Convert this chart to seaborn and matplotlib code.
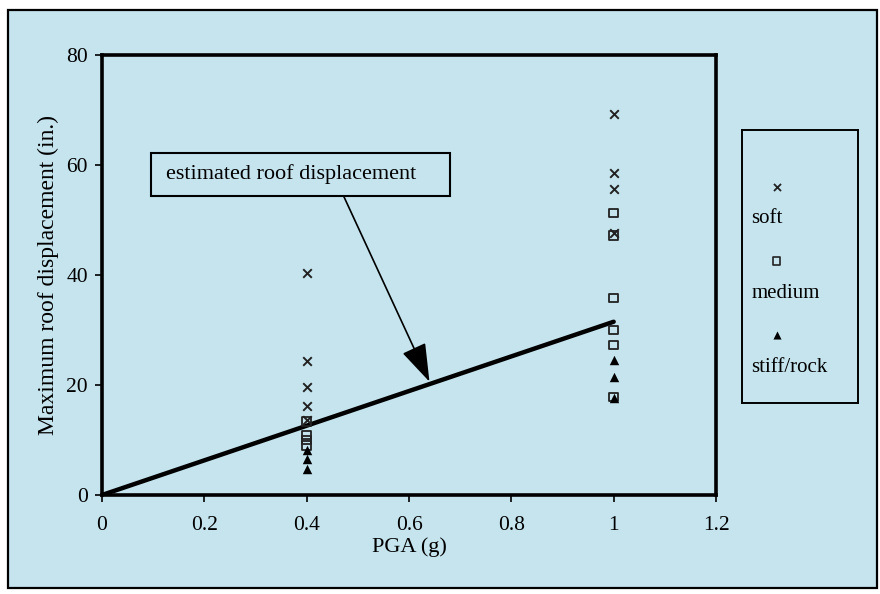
import matplotlib
matplotlib.use("Agg")
import matplotlib.pyplot as plt
from matplotlib.patches import Rectangle
import seaborn as sns
import pandas as pd

# ---- data ----
soft_pga = [0.4, 0.4, 0.4, 0.4, 0.4, 1.0, 1.0, 1.0, 1.0]
soft_disp = [40.4, 24.4, 19.6, 16.2, 13.6, 69.2, 58.5, 55.6, 47.6]

medium_pga = [0.4, 0.4, 0.4, 0.4, 1.0, 1.0, 1.0, 1.0, 1.0, 1.0]
medium_disp = [13.4, 10.9, 10.0, 9.0, 51.3, 47.2, 35.8, 30.0, 27.3, 17.8]

stiff_pga = [0.4, 0.4, 0.4, 1.0, 1.0, 1.0]
stiff_disp = [8.2, 6.5, 4.8, 24.5, 21.5, 17.6]

est_pga = [0.0, 1.0]
est_disp = [0.0, 31.5]

x_ticks = [0, 0.2, 0.4, 0.6, 0.8, 1, 1.2]
x_ticklabels = ["0", "0.2", "0.4", "0.6", "0.8", "1", "1.2"]
y_ticks = [0, 20, 40, 60, 80]

BG = "#c5e4ee"

sns.set_theme(style="white")
plt.rcParams["font.family"] = ["Liberation Serif", "DejaVu Serif"]

fig = plt.figure(figsize=(8.8, 5.94), dpi=100)
fig.patch.set_facecolor("white")
fig.patches.append(Rectangle((8 / 880, 6 / 594), 869 / 880, 578 / 594,
                             transform=fig.transFigure, facecolor=BG,
                             edgecolor="black", linewidth=1.6, zorder=-5))

ax = fig.add_axes([102 / 880, 1 - 495 / 594, 614 / 880, 440 / 594])
ax.patch.set_alpha(0)

soft = pd.DataFrame({"PGA": soft_pga, "disp": soft_disp})
med = pd.DataFrame({"PGA": medium_pga, "disp": medium_disp})
stiff = pd.DataFrame({"PGA": stiff_pga, "disp": stiff_disp})
est = pd.DataFrame({"PGA": est_pga, "disp": est_disp})

sns.lineplot(data=est, x="PGA", y="disp", ax=ax, color="black", linewidth=3.2, zorder=2)
sns.scatterplot(data=soft, x="PGA", y="disp", ax=ax, marker="x", color="#222222",
                s=38, linewidth=1.4, zorder=3)
sns.scatterplot(data=med, x="PGA", y="disp", ax=ax, marker="s", color="#222222",
                s=38, linewidth=1.3, zorder=3)
ax.collections[-1].set_facecolor("none")
ax.collections[-1].set_edgecolor("#222222")
sns.scatterplot(data=stiff, x="PGA", y="disp", ax=ax, marker="^", color="black",
                s=46, linewidth=0, zorder=3)

ax.set_xlim(0, 1.2)
ax.set_ylim(0, 80)
ax.set_xticks(x_ticks)
ax.set_xticklabels(x_ticklabels)
ax.set_yticks(y_ticks)
ax.tick_params(axis="both", which="both", direction="out", length=5, width=1.2,
               colors="black", labelsize=15.5, bottom=True, left=True)
ax.tick_params(axis="x", pad=10)
ax.tick_params(axis="y", pad=5)
for sp in ax.spines.values():
    sp.set_visible(True)
    sp.set_color("black")
    sp.set_linewidth(2.6)
ax.set_xlabel("PGA (g)", fontsize=16, labelpad=2, color="black")
ax.set_ylabel("Maximum roof displacement (in.)", fontsize=17, labelpad=5, color="black")

# annotation box + arrow
ax.add_patch(Rectangle((0.096, 54.4), 0.584, 7.8, facecolor="none",
                       edgecolor="black", linewidth=1.5, zorder=4))
ax.text(0.37, 58.3, "estimated roof displacement", ha="center", va="center",
        fontsize=16, color="black", zorder=5)
ax.annotate("", xy=(0.64, 20.6), xytext=(0.472, 54.4),
            arrowprops=dict(arrowstyle="-|>,head_length=1.2,head_width=0.4",
                            mutation_scale=20, color="black", lw=1.2,
                            shrinkA=0, shrinkB=0), zorder=5)

# legend panel
lax = fig.add_axes([742 / 880, 1 - 403 / 594, 116 / 880, 273 / 594])
lax.set_xlim(0, 1)
lax.set_ylim(0, 1)
lax.patch.set_alpha(0)
lax.set_xticks([])
lax.set_yticks([])
for sp in lax.spines.values():
    sp.set_visible(True)
    sp.set_color("black")
    sp.set_linewidth(1.4)
lax.scatter([0.3], [0.79], marker="x", s=26, color="#222222", linewidths=1.3)
lax.scatter([0.3], [0.52], marker="s", s=28, facecolors="none", edgecolors="#222222", linewidths=1.2)
lax.scatter([0.3], [0.25], marker="^", s=34, color="black", linewidths=0)
lax.text(0.08, 0.675, "soft", fontsize=15, va="center", ha="left", color="black")
lax.text(0.08, 0.40, "medium", fontsize=15, va="center", ha="left", color="black")
lax.text(0.08, 0.13, "stiff/rock", fontsize=15, va="center", ha="left", color="black")

fig.savefig("out.png", dpi=100, facecolor=fig.get_facecolor())
